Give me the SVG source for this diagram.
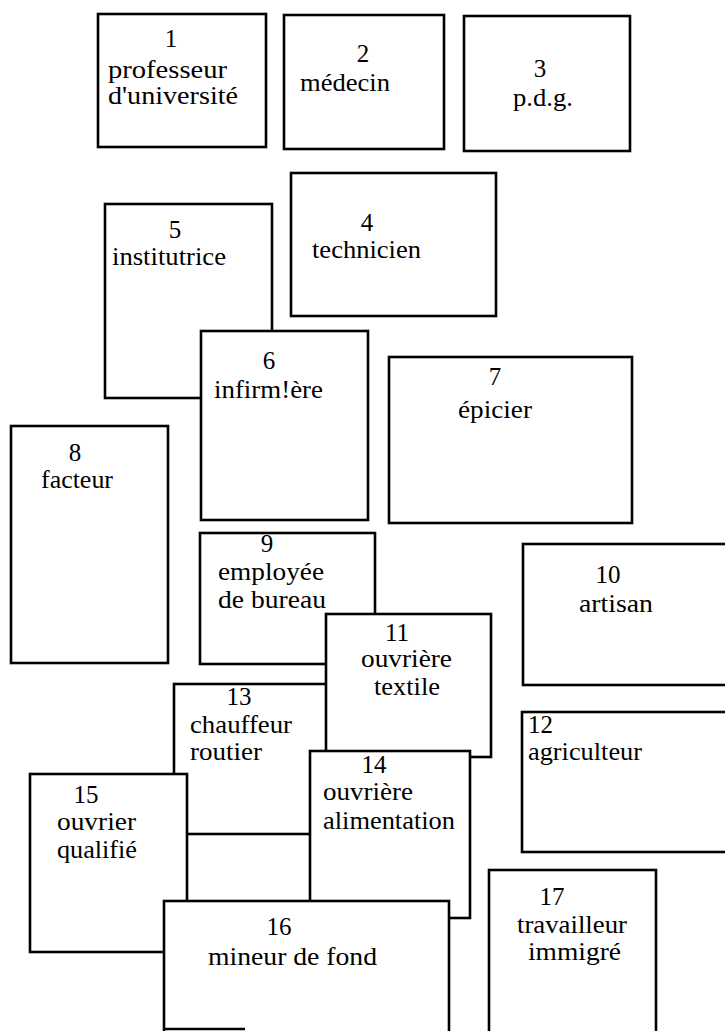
<svg xmlns="http://www.w3.org/2000/svg" width="725" height="1031" viewBox="0 0 725 1031">
<style>
.b { fill: #fff; stroke: #000; stroke-width: 2.6; }
.edge { fill: none; stroke: #000; stroke-width: 2.6; }
.c { text-anchor: middle; }
</style>
<rect x="0" y="0" width="725" height="1031" fill="#ffffff"/>
<g font-family="'Liberation Serif', 'DejaVu Serif', serif" font-size="25" fill="#000">
<g id="n1"><rect class="b" x="98" y="14" width="168" height="133"/><text class="c" x="171" y="47">1</text><text x="108" y="78" textLength="119" lengthAdjust="spacingAndGlyphs">professeur</text><text x="108" y="104" textLength="130" lengthAdjust="spacingAndGlyphs">d'université</text></g>
<g id="n2"><rect class="b" x="284" y="15" width="160" height="134"/><text class="c" x="363" y="62">2</text><text x="300" y="91" textLength="90" lengthAdjust="spacingAndGlyphs">médecin</text></g>
<g id="n3"><rect class="b" x="464" y="16" width="166" height="135"/><text class="c" x="540" y="77">3</text><text x="513" y="106" textLength="60" lengthAdjust="spacingAndGlyphs">p.d.g.</text></g>
<g id="n4"><rect class="b" x="291" y="173" width="205" height="143"/><text class="c" x="367" y="231">4</text><text x="312" y="258" textLength="109" lengthAdjust="spacingAndGlyphs">technicien</text></g>
<g id="n5"><rect class="b" x="105" y="204" width="167" height="194"/><text class="c" x="175" y="238">5</text><text x="112" y="265" textLength="114" lengthAdjust="spacingAndGlyphs">institutrice</text></g>
<g id="n6"><rect class="b" x="201" y="331" width="167" height="189"/><text class="c" x="269" y="369">6</text><text x="214" y="398" textLength="109" lengthAdjust="spacingAndGlyphs">infirm!ère</text></g>
<g id="n7"><rect class="b" x="389" y="357" width="243" height="166"/><text class="c" x="495" y="385">7</text><text x="458" y="418" textLength="74" lengthAdjust="spacingAndGlyphs">épicier</text></g>
<g id="n8"><rect class="b" x="11" y="426" width="157" height="237"/><text class="c" x="75" y="461">8</text><text x="41" y="488" textLength="72" lengthAdjust="spacingAndGlyphs">facteur</text></g>
<g id="n9"><rect class="b" x="200" y="533" width="175" height="131"/><text class="c" x="267" y="552">9</text><text x="218" y="580" textLength="106" lengthAdjust="spacingAndGlyphs">employée</text><text x="218" y="608" textLength="108" lengthAdjust="spacingAndGlyphs">de bureau</text></g>
<g id="n10"><rect class="b" x="523" y="544" width="220" height="141"/><text class="c" x="608" y="583">10</text><text x="579" y="612" textLength="74" lengthAdjust="spacingAndGlyphs">artisan</text></g>
<g id="n12"><rect class="b" x="522" y="712" width="220" height="140"/><text x="528" y="733">12</text><text x="528" y="760" textLength="114" lengthAdjust="spacingAndGlyphs">agriculteur</text></g>
<g id="n13"><rect class="b" x="174" y="684" width="166" height="150"/><text class="c" x="239" y="705">13</text><text x="190" y="733" textLength="102" lengthAdjust="spacingAndGlyphs">chauffeur</text><text x="190" y="760" textLength="72" lengthAdjust="spacingAndGlyphs">routier</text></g>
<g id="n11"><rect class="b" x="326" y="614" width="165" height="143"/><text class="c" x="397" y="641">11</text><text x="361" y="667" textLength="91" lengthAdjust="spacingAndGlyphs">ouvrière</text><text x="374" y="695" textLength="66" lengthAdjust="spacingAndGlyphs">textile</text></g>
<g id="n14"><rect class="b" x="310" y="751" width="160" height="167"/><text class="c" x="374" y="773">14</text><text x="323" y="800" textLength="90" lengthAdjust="spacingAndGlyphs">ouvrière</text><text x="323" y="829" textLength="132" lengthAdjust="spacingAndGlyphs">alimentation</text></g>
<g id="n15"><rect class="b" x="30" y="774" width="157" height="178"/><text class="c" x="86" y="803">15</text><text x="57" y="830" textLength="79" lengthAdjust="spacingAndGlyphs">ouvrier</text><text x="57" y="858" textLength="80" lengthAdjust="spacingAndGlyphs">qualifié</text></g>
<g id="n16"><rect class="b" x="164" y="901" width="285" height="140"/><path class="edge" d="M164,1029 H245"/><text class="c" x="279" y="935">16</text><text x="208" y="965" textLength="169" lengthAdjust="spacingAndGlyphs">mineur de fond</text></g>
<g id="n17"><rect class="b" x="489" y="870" width="167" height="180"/><text class="c" x="552" y="905">17</text><text x="517" y="933" textLength="110" lengthAdjust="spacingAndGlyphs">travailleur</text><text x="528" y="960" textLength="93" lengthAdjust="spacingAndGlyphs">immigré</text></g>
</g>
<g id="connectors"></g>
</svg>
